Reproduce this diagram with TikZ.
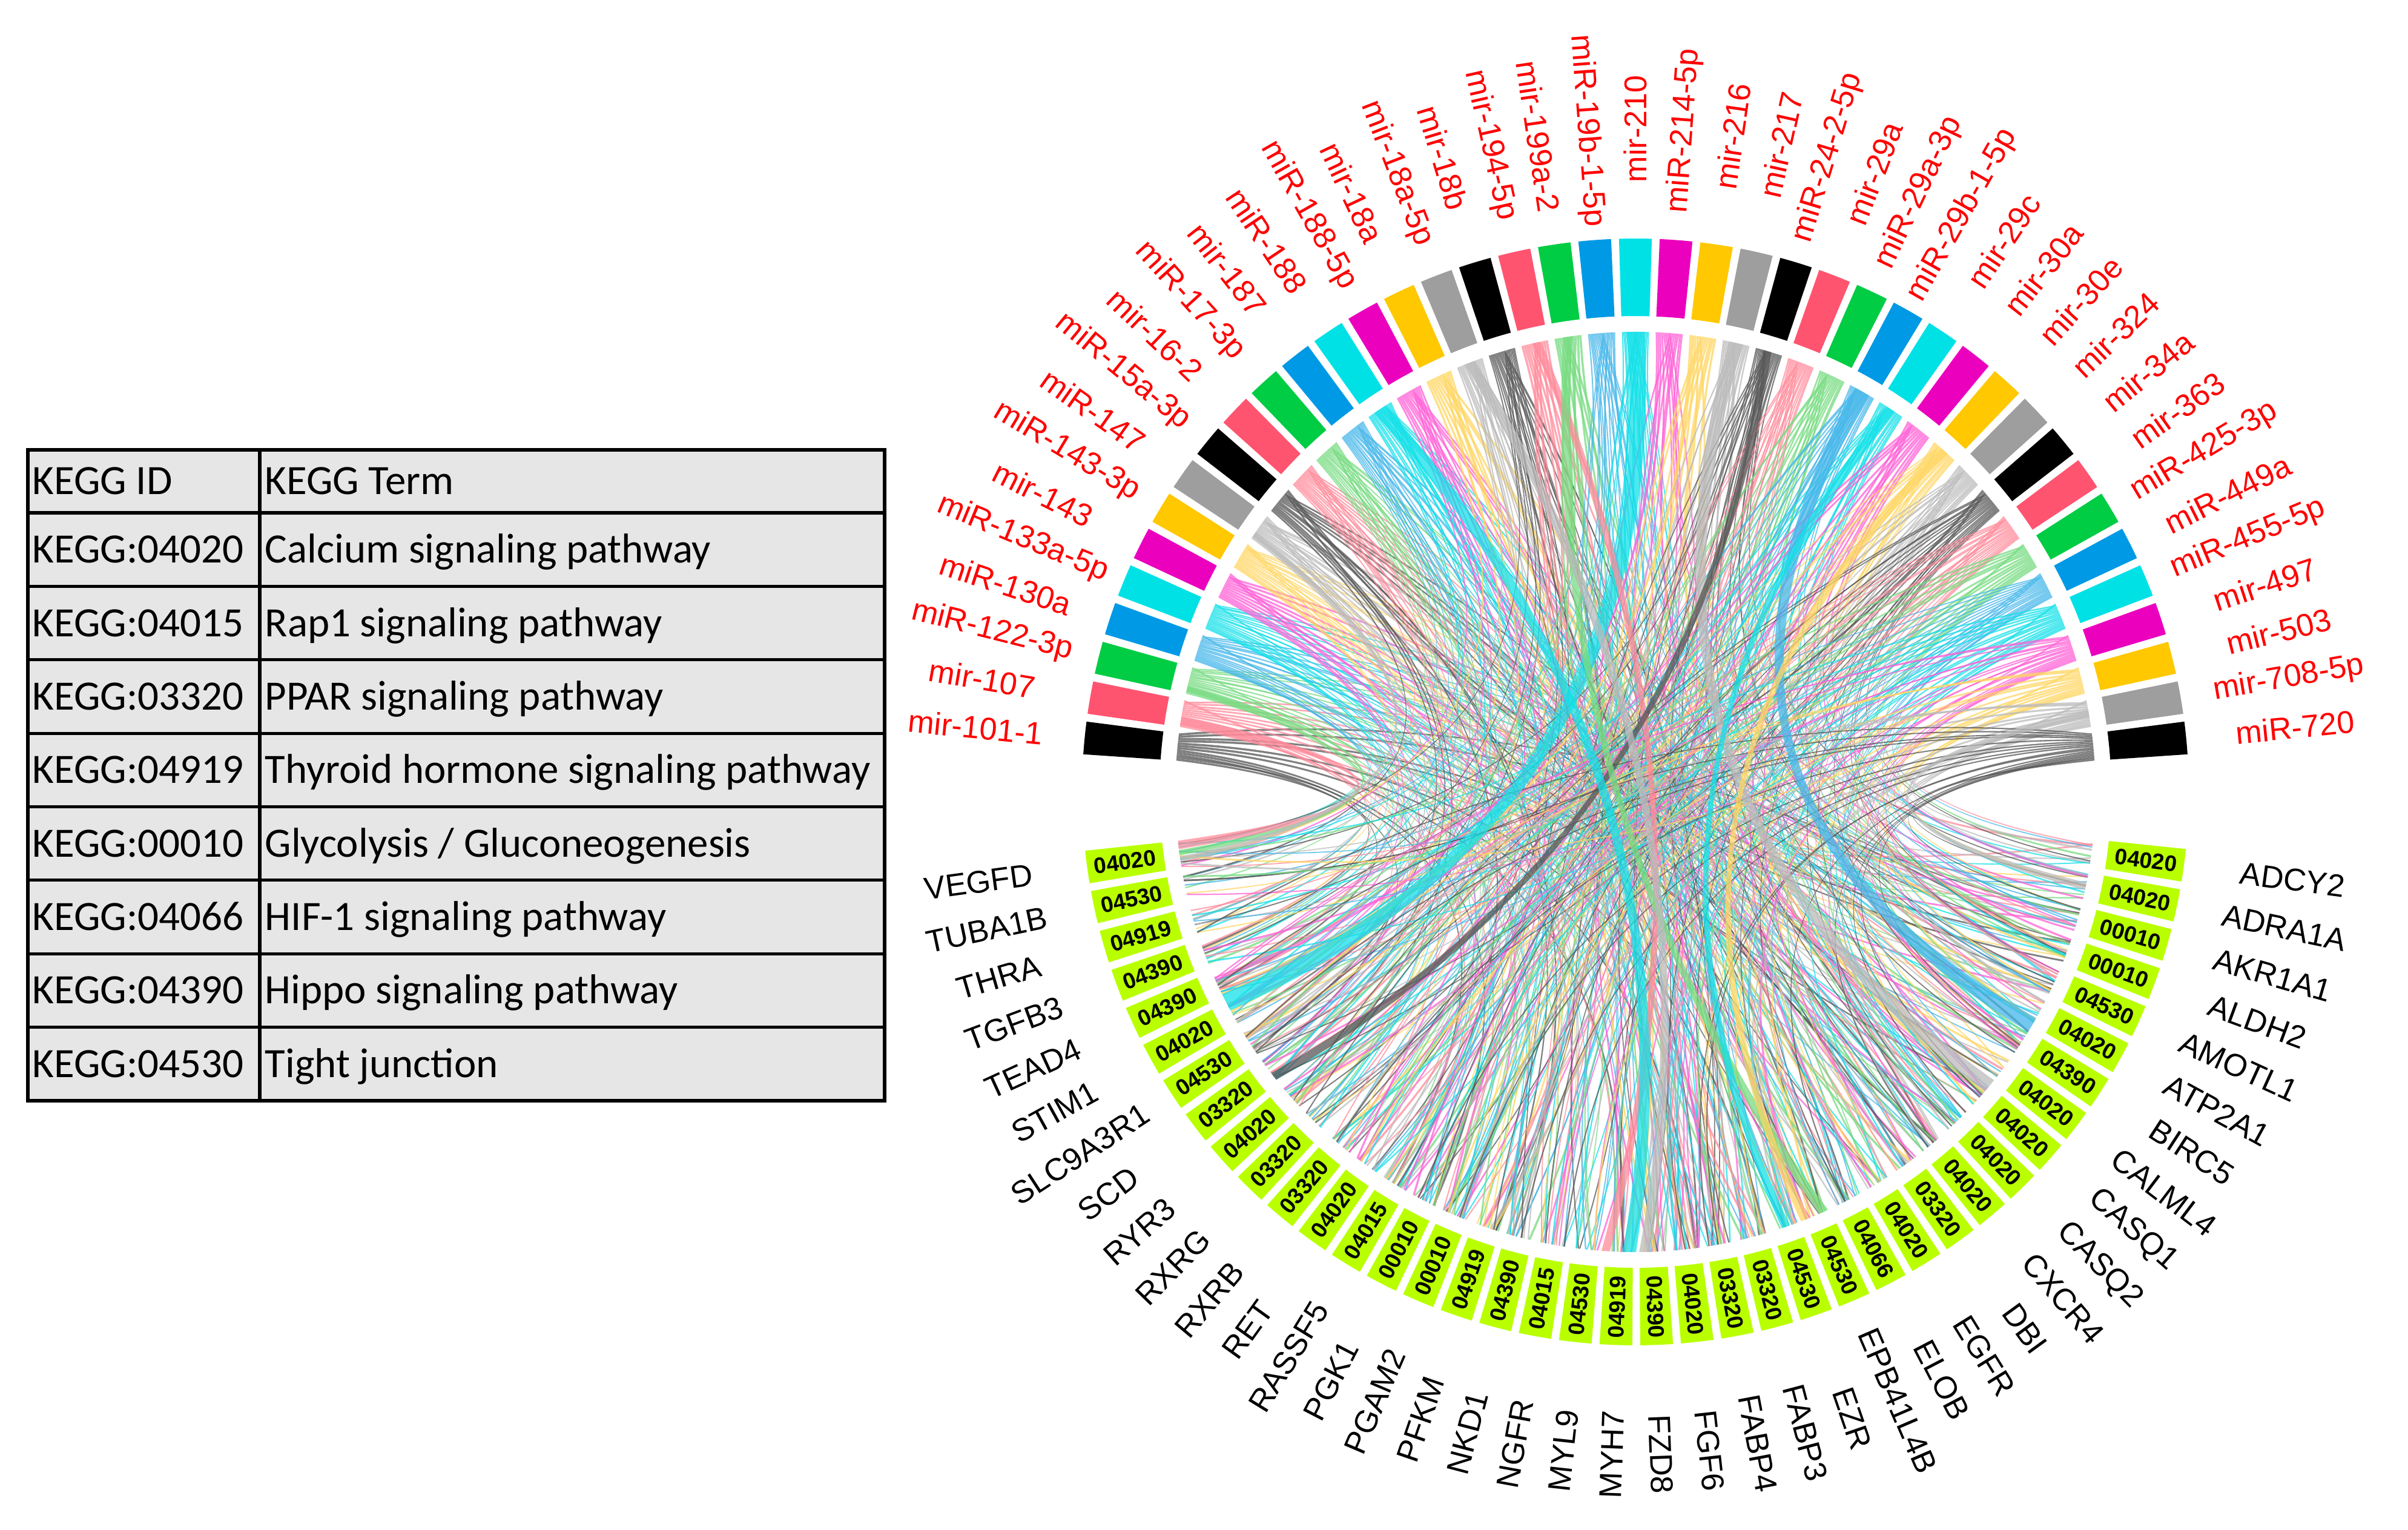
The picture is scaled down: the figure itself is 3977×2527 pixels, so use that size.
\documentclass[tikz,border=0pt]{standalone}
\usepackage{fontspec}
\setmainfont{Liberation Sans}
\newfontfamily\tabfont{Carlito}
\definecolor{c0}{RGB}{0,0,0}
\definecolor{c1}{RGB}{255,84,112}
\definecolor{c2}{RGB}{0,204,68}
\definecolor{c3}{RGB}{0,153,230}
\definecolor{c4}{RGB}{0,225,230}
\definecolor{c5}{RGB}{235,0,190}
\definecolor{c6}{RGB}{255,200,0}
\definecolor{c7}{RGB}{158,158,158}
\definecolor{l0}{RGB}{85,85,85}
\definecolor{l1}{RGB}{255,139,155}
\definecolor{l2}{RGB}{118,219,128}
\definecolor{l3}{RGB}{68,182,233}
\definecolor{l4}{RGB}{19,224,232}
\definecolor{l5}{RGB}{255,96,214}
\definecolor{l6}{RGB}{255,214,99}
\definecolor{l7}{RGB}{187,187,187}
\definecolor{keggbox}{RGB}{185,255,0}
\definecolor{tabgray}{RGB}{230,230,230}
\definecolor{mirred}{RGB}{255,0,0}
\newcommand{\hratio}{0.25}
% #1 angle a, #2 angle b, uses \lflag (1 = bow through the wrap side)
\newcommand{\mkctrl}[2]{%
  \pgfmathsetmacro{\ld}{#2-#1}%
  \pgfmathsetmacro{\lD}{\lflag>0.5 ? 360-\ld : \ld}%
  \pgfmathsetmacro{\lm}{\lflag>0.5 ? (#1+#2)/2+180 : (#1+#2)/2}%
  \pgfmathsetmacro{\lcr}{760*\hratio*(cos(\lD/2)-sin(\lD/2))}%
  \pgfmathsetmacro{\cx}{\lcr*cos(\lm)}%
  \pgfmathsetmacro{\cy}{\lcr*sin(\lm)}%
}
\newcommand{\chordribbon}[5]{%
  \pgfmathsetmacro{\lflag}{((#3+#4)/2-(#1+#2)/2)>180 ? 1 : 0}%
  \mkctrl{#1}{#3}\let\cxa\cx\let\cya\cy
  \mkctrl{#2}{#4}\let\cxb\cx\let\cyb\cy
  \coordinate (A1) at (#1:760);
  \coordinate (A2) at (#2:760);
  \coordinate (B1) at (#3:760);
  \coordinate (B2) at (#4:760);
  \fill[linkfill, fill=#5] (A2) arc[start angle=#2, end angle=#1, radius=760]
    .. controls ({253.333*cos(#1)+0.66667*\cxa},{253.333*sin(#1)+0.66667*\cya})
           and ({253.333*cos(#3)+0.66667*\cxa},{253.333*sin(#3)+0.66667*\cya}) .. (B1)
    arc[start angle=#3, end angle=#4, radius=760]
    .. controls ({253.333*cos(#4)+0.66667*\cxb},{253.333*sin(#4)+0.66667*\cyb})
           and ({253.333*cos(#2)+0.66667*\cxb},{253.333*sin(#2)+0.66667*\cyb}) .. (A2) -- cycle;
}
\begin{document}
\begin{tikzpicture}[x=0.01cm,y=0.01cm,
  mirlab/.style={text=mirred,font=\fontsize{14.8}{16}\selectfont,inner sep=0pt,anchor=center},
  genelab/.style={text=black,font=\fontsize{14.8}{16}\selectfont,inner sep=0pt,anchor=center},
  boxlab/.style={text=black,font=\bfseries\fontsize{10.5}{12}\selectfont,inner sep=0pt,anchor=center},
  tabtext/.style={font=\tabfont\fontsize{19.6}{22}\selectfont,anchor=base west,inner sep=0pt},
  tabline/.style={line width=1.45pt,draw=black},
  linkfill/.style={fill opacity=0.75}]
\useasboundingbox (0,0) rectangle (3977,2527);
% ---------- table ----------
\fill[tabgray] (46,709) rectangle (1461,1784);
\foreach \rr in {0,...,7}{\draw[tabline] (46,{1680-121.375*\rr}) -- (1461,{1680-121.375*\rr});}
\draw[tabline] (429,709) -- (429,1784);
\draw[tabline] (46,709) rectangle (1461,1784);
\node[tabtext] (hdid) at (53,1710) {KEGG ID};
\node[tabtext] (hdterm) at (437,1710) {KEGG Term};
\foreach \kid/\kterm [count=\rr from 0] in {04020/Calcium signaling pathway, 04015/Rap1 signaling pathway, 03320/PPAR signaling pathway, 04919/Thyroid hormone signaling pathway, 00010/{Glycolysis / Gluconeogenesis}, 04066/HIF-1 signaling pathway, 04390/Hippo signaling pathway, 04530/Tight junction}{
  \pgfmathsetmacro{\ry}{1680-121.375*(\rr+0.5)-22}
  \node[tabtext] (tid\rr) at (53,\ry) {KEGG:\kid};
  \node[tabtext] (tterm\rr) at (437,\ry) {\kterm};
}
% ---------- chord diagram ----------
\begin{scope}[shift={(2701,1219)}]
\pgfmathsetseed{2024}
\foreach \nx in {0,...,40}{
  \pgfmathsetmacro{\tang}{90+(20-\nx)*4.22}
  \pgfmathtruncatemacro{\cc}{mod(\nx,8)}
  \pgfmathtruncatemacro{\Kx}{random(12,22)}
  \pgfmathsetmacro{\wdeg}{3.4/\Kx}
  \foreach \lx in {1,...,\Kx}{
    \pgfmathsetmacro{\lka}{\tang+1.7-(\lx-1)*\wdeg}
    \pgfmathsetmacro{\lkb}{\lka-\wdeg}
    \pgfmathtruncatemacro{\gidx}{min(39,floor(((\lx-1)+1.6*rnd)*40/(\Kx+0.6)))}
    \pgfmathsetmacro{\lga}{187.8+\gidx*4.22-1.7+rnd*(3.4-\wdeg)}
    \pgfmathsetmacro{\lgb}{\lga+\wdeg}
    \chordribbon{\lka}{\lkb}{\lga}{\lgb}{l\cc}
  }
}
% thicker links
\foreach \spm/\spg/\spw/\spo in {20/4.6/30/0.5, 27/33.6/26/0.5, 23/31.4/24/0.5, 17/18.6/14/0.6, 24/7.2/14/0.4, 18/25.2/16/0.5, 12/19.3/22/0.5, 15/19.75/18/0.5, 30/24.6/14/0.5, 28/24.0/14/0.5, 1/-0.28/14/0.1, 2/-0.05/9/0.1, 7/0.14/9/0.1, 39/38.0/12/0.5}{
  \pgfmathsetmacro{\tang}{90+(20-\spm)*4.22}
  \pgfmathtruncatemacro{\cc}{mod(\spm,8)}
  \pgfmathsetmacro{\swd}{\spw/13.265}
  \pgfmathsetmacro{\lka}{\tang+1.7-\spo*(3.4-\swd)}
  \pgfmathsetmacro{\lkb}{\lka-\swd}
  \pgfmathsetmacro{\lga}{187.8+\spg*4.22-\swd/2}
  \pgfmathsetmacro{\lgb}{\lga+\swd}
  \chordribbon{\lka}{\lkb}{\lga}{\lgb}{l\cc}
}
% miRNA blocks and labels
\foreach \mname [count=\nx from 0] in {mir-101-1, mir-107, miR-122-3p, miR-130a, miR-133a-5p, mir-143, miR-143-3p, miR-147, miR-15a-3p, mir-16-2, miR-17-3p, mir-187, miR-188, miR-188-5p, mir-18a, mir-18a-5p, mir-18b, mir-194-5p, mir-199a-2, miR-19b-1-5p, mir-210, miR-214-5p, mir-216, mir-217, miR-24-2-5p, mir-29a, miR-29a-3p, miR-29b-1-5p, mir-29c, mir-30a, mir-30e, mir-324, mir-34a, mir-363, miR-425-3p, miR-449a, miR-455-5p, mir-497, mir-503, mir-708-5p, miR-720}{
  \pgfmathsetmacro{\tang}{90+(20-\nx)*4.22}
  \pgfmathtruncatemacro{\cc}{mod(\nx,8)}
  \pgfmathsetmacro{\bka}{\tang-1.7}
  \pgfmathsetmacro{\bkb}{\tang+1.7}
  \fill[fill=c\cc] (\bka:786) arc[start angle=\bka, end angle=\bkb, radius=786] -- (\bkb:914) arc[start angle=\bkb, end angle=\bka, radius=914] -- cycle;
  \pgfmathsetmacro{\rot}{\tang>90.01 ? \tang-180 : \tang}
  \node[mirlab, rotate=\rot] (mir\nx) at (\tang:1095) {\mname};
}
% gene boxes and labels
\foreach \gname/\gk [count=\nx from 0] in {VEGFD/04020, TUBA1B/04530, THRA/04919, TGFB3/04390, TEAD4/04390, STIM1/04020, SLC9A3R1/04530, SCD/03320, RYR3/04020, RXRG/03320, RXRB/03320, RET/04020, RASSF5/04015, PGK1/00010, PGAM2/00010, PFKM/04919, NKD1/04390, NGFR/04015, MYL9/04530, MYH7/04919, FZD8/04390, FGF6/04020, FABP4/03320, FABP3/03320, EZR/04530, EPB41L4B/04530, ELOB/04066, EGFR/04020, DBI/03320, CXCR4/04020, CASQ2/04020, CASQ1/04020, CALML4/04020, BIRC5/04390, ATP2A1/04020, AMOTL1/04530, ALDH2/00010, AKR1A1/00010, ADRA1A/04020, ADCY2/04020}{
  \pgfmathsetmacro{\tang}{187.8+\nx*4.22}
  \pgfmathsetmacro{\bka}{\tang-1.7}
  \pgfmathsetmacro{\bkb}{\tang+1.7}
  \fill[fill=keggbox] (\bka:786) arc[start angle=\bka, end angle=\bkb, radius=786] -- (\bkb:914) arc[start angle=\bkb, end angle=\bka, radius=914] -- cycle;
  \pgfmathsetmacro{\rot}{\tang<270 ? \tang-180 : \tang}
  \node[boxlab, rotate=\rot] (kb\nx) at (\tang:851) {\gk};
  \node[genelab, rotate=\rot] (gene\nx) at (\tang:1095) {\gname};
}
\end{scope}
\end{tikzpicture}
\end{document}
